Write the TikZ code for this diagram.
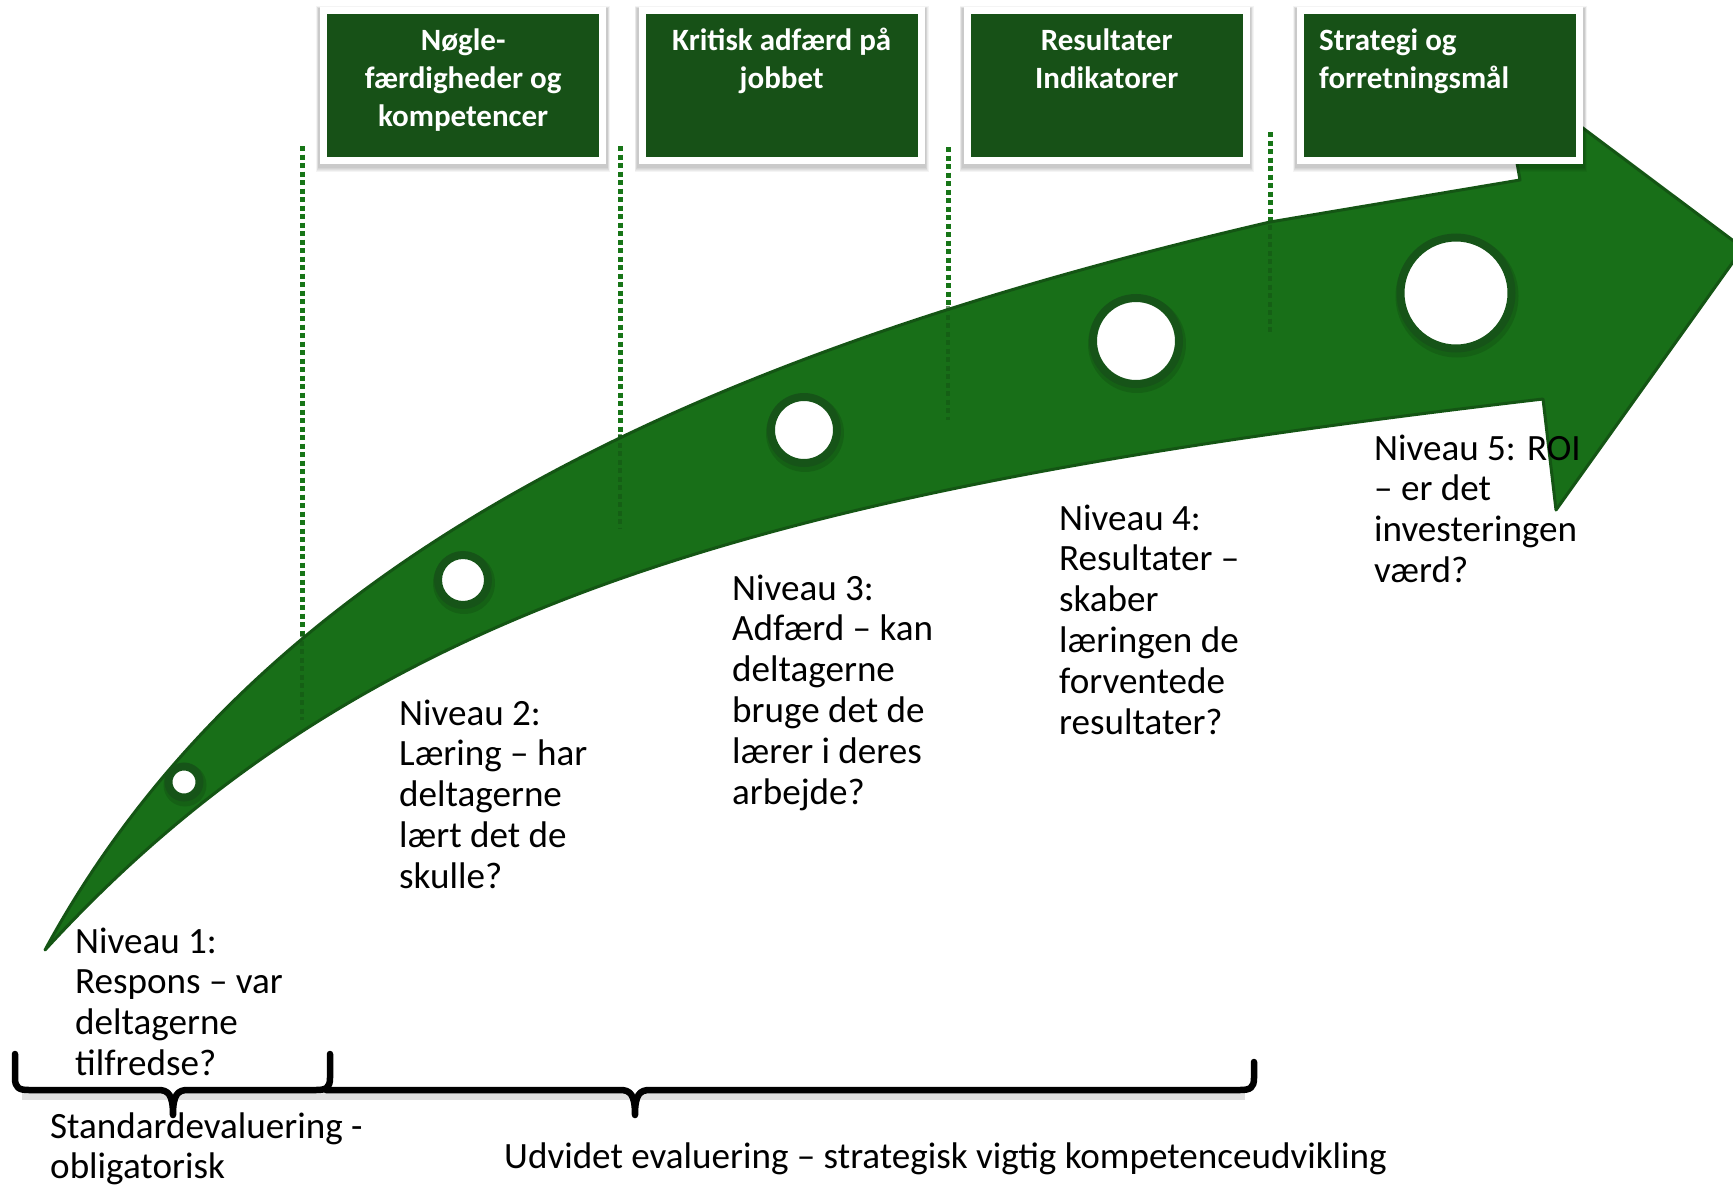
\documentclass[tikz,border=0pt]{standalone}
\usepackage{fontspec}
\setmainfont{Carlito}
\definecolor{arrowgreen}{HTML}{186F18}
\definecolor{edgegreen}{HTML}{145514}
\definecolor{boxgreen}{HTML}{175117}
\definecolor{ringgreen}{HTML}{165418}
\definecolor{dotgreen}{HTML}{177517}
\newcommand{\lblfont}{\fontsize{37.1}{40.8}\selectfont}
\newcommand{\boxfont}{\fontsize{31}{38}\selectfont\bfseries}
\begin{document}
\begin{tikzpicture}[x=1pt,y=-1pt,
  lbl/.style={anchor=base west, inner sep=0pt, text=black},
  boxtxt/.style={anchor=base west, inner sep=0pt, text=white},
  dotline/.style={draw=dotgreen, line width=5pt, dash pattern=on 5pt off 3.5pt},
  dotinside/.style={draw=edgegreen, line width=4.5pt, dash pattern=on 5pt off 3.5pt, opacity=0.6},
  ring/.style={circle, draw=ringgreen, fill=white, line width=8pt, inner sep=0pt},
  boxnode/.style={rectangle, fill=boxgreen, draw=white, line width=7pt, inner sep=0pt, minimum width=279pt, minimum height=150pt},
  bracestyle/.style={draw=black, line width=6.5pt, line join=round, line cap=round}]

\useasboundingbox (0,0) rectangle (1733,1189);
\fill[white] (0,0) rectangle (1733,1189);

% dotted separators (outside part drawn under the arrow)
\coordinate (d1t) at (302,146); \coordinate (d1b) at (302,720);
\coordinate (d2t) at (620,146); \coordinate (d2b) at (620,528);
\coordinate (d3t) at (948,147); \coordinate (d3b) at (948,420);
\coordinate (d4t) at (1270,132); \coordinate (d4b) at (1270,332);
\draw[dotline] (d1t) -- (d1b);
\draw[dotline] (d2t) -- (d2b);
\draw[dotline] (d3t) -- (d3b);
\draw[dotline] (d4t) -- (d4b);

% arrow
\path[fill=arrowgreen, draw=edgegreen, line width=3pt, line join=round]
  (45,950) .. controls (264,546) and (720,350) .. (1270,222)
  -- (1520,180) -- (1500,66) -- (1743,248) -- (1556,510) -- (1543,399)
  .. controls (783,488) and (369,596) .. (45,950) -- cycle;

% dotted separators seen through the arrow
\coordinate (d1m) at (302,632); \coordinate (d2m) at (620,434);
\coordinate (d3m) at (948,306); \coordinate (d4m) at (1270,225);
\draw[dotinside] (d1m) -- (d1b);
\draw[dotinside] (d2m) -- (d2b);
\draw[dotinside] (d3m) -- (d3b);
\draw[dotinside] (d4m) -- (d4b);

% level circles
\foreach \n/\x/\y/\r in {1/184/782/15.5, 2/463/580/25, 3/804/430/33, 4/1136/341/43, 5/1456/293/55.5}{
  \fill[black, opacity=0.12] (\x+1,\y+3) circle (\r+6);
  \node[ring, minimum size=2*\r pt] (c\n) at (\x,\y) {};
}

% header boxes
\foreach \n/\cx in {1/463, 2/781.5, 3/1106.5, 4/1440}{
  \foreach \i in {1,2,3,4,5}{
    \fill[black, opacity=0.045] (\cx-144-\i*0.6,7-\i*0.6+2) rectangle (\cx+144+\i*0.6,165+\i*0.9+2);
  }
  \node[boxnode] (b\n) at (\cx,85.5) {};
}
\node[boxtxt] (t1) at (327,50) {\parbox[t]{272pt}{\centering\boxfont N\o gle-\\f\ae rdigheder og\\kompetencer}};
\node[boxtxt] (t2) at (645,50) {\parbox[t]{273pt}{\centering\boxfont Kritisk adf\ae rd p\aa\\jobbet}};
\node[boxtxt] (t3) at (970,50) {\parbox[t]{273pt}{\centering\boxfont Resultater\\Indikatorer}};
\node[boxtxt] (t4) at (1319,50) {\parbox[t]{260pt}{\raggedright\boxfont Strategi og\\forretningsm\aa l}};

% level labels
\node[lbl] (n1) at (75,953) {\parbox[t]{300pt}{\raggedright\lblfont Niveau 1:\\Respons – var\\deltagerne\\tilfredse?}};
\node[lbl] (n2) at (399,725) {\parbox[t]{300pt}{\raggedright\lblfont Niveau 2:\\Læring – har\\deltagerne\\lært det de\\skulle?}};
\node[lbl] (n3) at (732,600) {\parbox[t]{300pt}{\raggedright\lblfont Niveau 3:\\Adfærd – kan\\deltagerne\\bruge det de\\lærer i deres\\arbejde?}};
\node[lbl] (n4) at (1059,530) {\parbox[t]{300pt}{\raggedright\lblfont Niveau 4:\\Resultater –\\skaber\\læringen de\\forventede\\resultater?}};
\node[lbl] (n5) at (1374,460) {\parbox[t]{300pt}{\raggedright\lblfont Niveau 5: ROI\\– er det\\investeringen\\værd?}};

% braces
\draw[black, opacity=0.12, line width=7pt] (22,1096) -- (1245,1096);
\draw[bracestyle] (326,1090)
  -- (620,1090) .. controls (630,1090) and (635,1094) .. (635,1115)
  .. controls (635,1094) and (640,1090) .. (650,1090)
  -- (1240,1090) .. controls (1250,1090) and (1254,1088) .. (1254,1078) -- (1254,1062);
\draw[bracestyle] (15,1054) -- (15,1078) .. controls (15,1088) and (19,1090) .. (29,1090)
  -- (158,1090) .. controls (168,1090) and (173,1094) .. (173,1115)
  .. controls (173,1094) and (178,1090) .. (188,1090)
  -- (316,1090) .. controls (326,1090) and (330,1088) .. (330,1078) -- (330,1054);

\node[lbl] (s1) at (50,1138) {\parbox[t]{400pt}{\raggedright\lblfont Standardevaluering -\\obligatorisk}};
\node[lbl] (s2) at (504,1168) {\lblfont Udvidet evaluering – strategisk vigtig kompetenceudvikling};

\end{tikzpicture}
\end{document}
